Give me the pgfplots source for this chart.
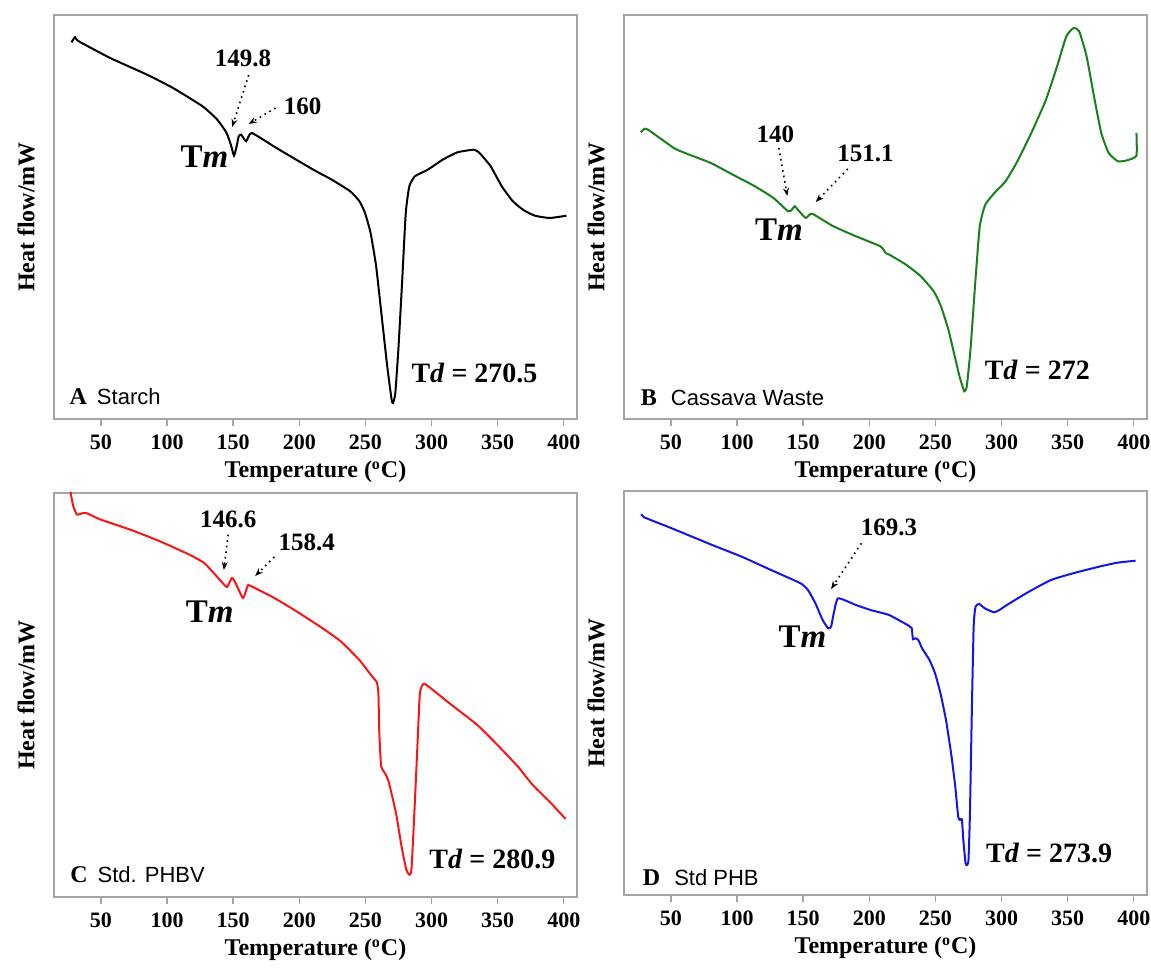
\documentclass[border=0pt]{standalone}
\usepackage{fontspec}
\setmainfont{Liberation Serif}
\newfontfamily\arial{Liberation Sans}
\usepackage{pgfplots}
\pgfplotsset{compat=1.18}
\usetikzlibrary{arrows.meta}
\definecolor{axgray}{RGB}{165,165,165}
\definecolor{cgreen}{RGB}{25,128,25}
\definecolor{cred}{RGB}{250,20,20}
\definecolor{cblue}{RGB}{20,20,235}
\pgfplotsset{
  dsc/.style={
    width=261.5pt, height=202pt, scale only axis,
    xmin=14.5, xmax=410, ymin=0, ymax=404,
    xtick={50,100,...,400}, ytick=\empty,
    axis line style={axgray, line width=0.7pt},
    tick style={axgray, line width=0.7pt},
    tick align=outside, major tick length=3.5pt,
    xtick pos=bottom,
    /pgf/number format/assume math mode=true,
    xticklabel style={font=\fontsize{11}{11}\selectfont\bfseries, yshift=-1pt},
    xlabel={\fontsize{12}{12}\selectfont\bfseries Temperature (\textsuperscript{o}C)},
    ylabel={\fontsize{12}{12}\selectfont\bfseries Heat flow/mW},
    x label style={at={(axis description cs:0.5,0)}, anchor=center, yshift=-26.5pt},
    y label style={at={(axis description cs:0,0.5)}, anchor=center, yshift=14pt},
    clip=true,
  },
  crv/.style={line width=1pt, smooth, tension=0.3},
}
\tikzset{
  arr/.style={dotted, line width=0.8pt, -{Stealth[length=4pt,width=3pt]}},
  ann/.style={font=\fontsize{12.5}{12.5}\selectfont\bfseries},
  tmlab/.style={font=\fontsize{16.5}{16.5}\selectfont\bfseries},
  tdlab/.style={font=\fontsize{14}{14}\selectfont\bfseries, anchor=west},
}
\begin{document}
\begin{tikzpicture}
\useasboundingbox (0,0) rectangle (575.5pt,484.5pt);
% ---------------- A ----------------
\begin{axis}[dsc, at={(27pt,275pt)}, anchor=south west]
\addplot[black, crv] coordinates {
(27.7,376.7) (30.4,381.7) (33.2,377.7) (57,361) (84.9,344.3) (104.5,331)
(126.8,312.7) (138,299.3) (145,286) (148.6,272.7) (150.6,263.3) (152.5,272)
(154.2,282.7) (156.1,284.3) (159.8,277.7) (164,286) (182.7,271) (210.6,249.3)
(224.6,239.3) (238.5,227.7) (245.5,217.7) (249.7,206) (253.9,186) (258.1,152.7)
(262.3,102.7) (266.5,52.7) (269.8,19.3) (270.9,16) (272.6,26) (274.9,69.3)
(277.7,136) (280.5,206) (283.2,232.7) (287.4,242.7) (297.2,249.3) (308.4,259.3)
(319.6,266.7) (332.1,269.3) (336.3,266) (344.7,252.7) (353.1,232.7) (361.5,217.7)
(369.8,208.7) (378.2,203.3) (389.4,201) (402,203.3)
};
\node[ann] at (axis cs:157.5,361) {149.8};
\draw[arr] (axis cs:161.7,344) -- (axis cs:149.2,292);
\node[ann, anchor=west] at (axis cs:183,312.7) {160};
\draw[arr] (axis cs:182,311) -- (axis cs:161.7,295);
\node[tmlab] at (axis cs:128.2,262.7) {T\textit{m}};
\node[tdlab] at (axis cs:279.5,46) {T\textit{d} = 270.5};
\node[anchor=west] at (axis cs:21,22.7) {\fontsize{12}{12}\selectfont\bfseries A\hspace{5pt}\fontsize{11}{11}\selectfont\arial\mdseries Starch};
\end{axis}
% ---------------- B ----------------
\begin{axis}[dsc, at={(312pt,275pt)}, anchor=south west]
\addplot[cgreen, crv] coordinates {
(27.2,286.7) (29.9,290) (32.7,289.3) (52.2,271) (60.6,266) (80.1,256)
(96.8,244.3) (113.5,232.7) (127.5,221) (138.6,207.7) (141.4,209.3) (143.6,212.7)
(147,207.7) (152,201) (156.7,205.3) (172,193.3) (188.8,183.3) (208.3,172.7)
(212.4,166) (215.2,164.3) (227.8,154.3) (238.9,142.7) (248.7,127.7) (254.2,112.7)
(259.8,89.3) (264,66) (268.2,42.7) (271.8,27.7) (273.7,32.7) (276.5,69.3)
(280.1,136) (283.5,192.7) (287.7,214.3) (294.6,226) (303,237.7) (311.3,256)
(322.5,286) (333.6,319.3) (342,352.7) (349,382.7) (354.5,391) (358.7,387.7)
(364.3,362.7) (369.9,322.7) (375.4,286) (381,266) (388,257.7) (395,258.7)
(402,263.3) (402,286)
};
\node[ann] at (axis cs:128.9,284.3) {140};
\draw[arr] (axis cs:131.6,271) -- (axis cs:138,223);
\node[ann] at (axis cs:197.1,265.3) {151.1};
\draw[arr] (axis cs:183.7,250) -- (axis cs:159.5,217);
\node[tmlab] at (axis cs:131.6,189.3) {T\textit{m}};
\node[tdlab] at (axis cs:282,48.7) {T\textit{d} = 272};
\node[anchor=west] at (axis cs:22,21) {\fontsize{12}{12}\selectfont\bfseries B\hspace{7pt}\fontsize{11}{11}\selectfont\arial\mdseries Cassava Waste};
\end{axis}
% ---------------- C ----------------
\begin{axis}[dsc, at={(27pt,36pt)}, anchor=south west]
\addplot[cred, crv] coordinates {
(26.5,415) (27.1,404) (29.1,390.7) (31.9,382.3) (34.7,383.3) (38.8,384)
(50,377.3) (72.3,367.3) (94.6,355.7) (116.9,342.3) (128.1,334) (136.4,322.3)
(142,314) (145.4,310) (149,319) (151.8,314) (157.4,299) (161,311.3)
(162.9,311.3) (181.1,299) (197.8,285.7) (217.3,269) (231.3,255.7) (245.2,237.3)
(255,220.7) (258.6,214.7) (259.8,204) (260.5,164) (261.9,130.7) (264.7,124)
(267.5,115.7) (273.1,84) (277.3,50.7) (280.9,27.3) (283.1,22.3) (284.8,27.3)
(287,84) (289.3,150.7) (291.2,204) (294,213.3) (298.2,210) (314.9,192.3)
(334.4,172.3) (348.4,154) (365.1,130.7) (376.3,112.3) (390.2,94) (401.4,78)
};
\node[ann] at (axis cs:146.2,378) {146.6};
\draw[arr] (axis cs:146.2,362.3) -- (axis cs:142.9,327);
\node[ann] at (axis cs:205.6,354.7) {158.4};
\draw[arr] (axis cs:181.1,340) -- (axis cs:166.6,321);
\node[tmlab] at (axis cs:132.3,285.7) {T\textit{m}};
\node[tdlab] at (axis cs:293,38) {T\textit{d} = 280.9};
\node[anchor=west] at (axis cs:21.5,22.3) {\fontsize{12}{12}\selectfont\bfseries C\hspace{5pt}\fontsize{11}{11}\selectfont\arial\mdseries Std. PHBV};
\end{axis}
% ---------------- D ----------------
\begin{axis}[dsc, at={(312pt,37pt)}, anchor=south west]
\addplot[cblue, crv] coordinates {
(27.7,381) (29.7,377.7) (50.6,366.7) (81.2,350) (103.5,338.3) (125.7,325)
(148,311.7) (153.6,305) (159.2,291.7) (164.7,275) (168.9,266.7) (171.1,268.3)
(173.1,281.7) (176.4,296.7) (189.8,290) (200.9,285) (214.9,280) (230.2,269)
(232.1,266.7) (233,255.7) (234.9,256.7) (237.1,255) (239.9,246.7) (245.5,235)
(249.7,221.7) (253.8,201.7) (258,175) (262.2,138.3) (265,108.3) (267.2,78.3)
(268.6,75) (270,75.7) (271.1,55) (272.8,31.7) (273.9,30) (275,35)
(276.1,81.7) (277.5,181.7) (278.9,268.3) (280.3,288.3) (283.1,291) (287.3,286.7)
(294.2,282.7) (298.4,285) (304,290) (320.7,303.3) (337.4,315) (354.1,321.7)
(373.6,328.3) (387.5,332.3) (401.4,334.3)
};
\node[ann] at (axis cs:214.9,367.3) {169.3};
\draw[arr] (axis cs:194,351.7) -- (axis cs:171.1,306);
\node[tmlab] at (axis cs:149.4,258.3) {T\textit{m}};
\node[tdlab] at (axis cs:283,42.3) {T\textit{d} = 273.9};
\node[anchor=west] at (axis cs:23.5,17.7) {\fontsize{12}{12}\selectfont\bfseries D\hspace{7pt}\fontsize{11}{11}\selectfont\arial\mdseries Std PHB};
\end{axis}
\end{tikzpicture}
\end{document}
